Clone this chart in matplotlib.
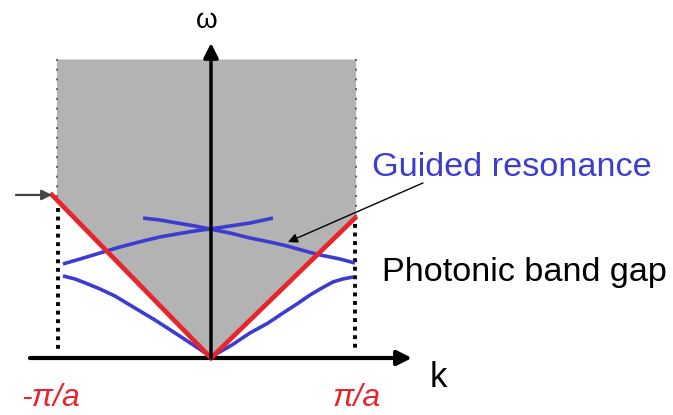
import numpy as np
import matplotlib
matplotlib.use("Agg")
import matplotlib.pyplot as plt

plt.rcParams['font.family'] = ['Liberation Sans', 'DejaVu Sans']

# ---- data (k in units of pi/a, omega in arbitrary units) ----
zone_edges = [-1.027, 0.967]          # -pi/a, pi/a
light_k = [-1.06, 0.0, 0.96]          # light line (red)
light_w = [1.087, 0.0, 0.933]
cone_top = 1.99                       # top of the shaded light cone region

# guided-resonance bands (blue)
bandA_k = [-0.987, -0.873, -0.740, -0.607, -0.453, -0.340, -0.227, -0.107,
           -0.007, 0.127, 0.260, 0.413]
bandA_w = [0.627, 0.660, 0.700, 0.740, 0.780, 0.807, 0.827, 0.847,
           0.860, 0.880, 0.900, 0.933]
bandB_k = [-0.453, -0.340, -0.227, -0.107, -0.007, 0.127, 0.260, 0.393,
           0.507, 0.627, 0.727, 0.860, 0.960]
bandB_w = [0.933, 0.920, 0.900, 0.880, 0.860, 0.833, 0.800, 0.773,
           0.747, 0.713, 0.687, 0.660, 0.633]
lowL_k = [-0.987, -0.907, -0.820, -0.740, -0.640, -0.507, -0.373, -0.240,
          -0.107, 0.0]
lowL_w = [0.547, 0.527, 0.493, 0.460, 0.413, 0.333, 0.253, 0.167,
          0.080, 0.007]
lowR_k = [0.0, 0.140, 0.260, 0.380, 0.480, 0.573, 0.660, 0.740, 0.813,
          0.880, 0.947]
lowR_w = [0.007, 0.087, 0.167, 0.233, 0.300, 0.360, 0.420, 0.467, 0.507,
          0.527, 0.540]

k_label_texts = ['-\u03c0/a', '\u03c0/a']

# ---- figure ----
fig = plt.figure(figsize=(6.73, 4.15), dpi=100)
ax = fig.add_axes([0, 0, 1, 1])
ax.set_xlim(-211 / 150, (673 - 211) / 150)
ax.set_ylim(-(415 - 358) / 150, 358 / 150)
ax.axis('off')

red = '#e8252b'
blue = '#3c3cd0'
gray = '#b3b3b3'

# shaded region above the light line
wl = np.interp(zone_edges[0], light_k, light_w)
wr = np.interp(zone_edges[1], light_k, light_w)
poly_k = [zone_edges[0], zone_edges[1], zone_edges[1], 0.0, zone_edges[0]]
poly_w = [cone_top, cone_top, wr, 0.0, wl]
ax.fill(poly_k, poly_w, color=gray, lw=0, zorder=1)

# thin dotted edges of the shaded region
for ke, we in zip(zone_edges, [wl, wr]):
    ax.plot([ke, ke], [cone_top, we], color='#606060', lw=1.4,
            ls=(0, (1, 4)), zorder=2)
# thick dotted zone-boundary lines below the light line
ax.plot([zone_edges[0] + 0.01] * 2, [wl - 0.05, 0.04], color='black', lw=2.8,
        ls=(0, (1, 1.2)), zorder=2)
ax.plot([zone_edges[1] - 0.01] * 2, [wr - 0.04, 0.04], color='black', lw=2.8,
        ls=(0, (1, 1.2)), zorder=2)

# blue bands
for kk, ww in [(bandA_k, bandA_w), (bandB_k, bandB_w),
               (lowL_k, lowL_w), (lowR_k, lowR_w)]:
    ax.plot(kk, ww, color=blue, lw=2.6, solid_capstyle='butt',
            solid_joinstyle='round', zorder=4)

# axes arrows
ax.annotate('', xy=(1.34, 0), xytext=(-1.207, 0),
            arrowprops=dict(arrowstyle='-|>', lw=3, color='black',
                            mutation_scale=22, shrinkA=0, shrinkB=0),
            zorder=3)
ax.annotate('', xy=(0, 2.10), xytext=(0, 0),
            arrowprops=dict(arrowstyle='-|>', lw=2.5, color='black',
                            mutation_scale=22, shrinkA=0, shrinkB=0),
            zorder=5)

# light line (red)
ax.plot(light_k, light_w, color=red, lw=3.4, solid_joinstyle='miter', zorder=4.5)

# left marker arrow
ax.annotate('', xy=(light_k[0], light_w[0]), xytext=(-1.30, light_w[0]),
            arrowprops=dict(arrowstyle='-|>', lw=1.6, color='#444444',
                            mutation_scale=15, shrinkA=0, shrinkB=0), zorder=5)

# guided resonance annotation
ax.annotate('', xy=(0.513, 0.773), xytext=(1.413, 1.167),
            arrowprops=dict(arrowstyle='-|>', lw=1.0, color='black',
                            mutation_scale=14, shrinkA=0, shrinkB=0), zorder=6)
ax.text(1.073, 1.273, 'Guided resonance', color=blue, fontsize=24.7,
        ha='left', va='center')
ax.text(1.14, 0.567, 'Photonic band gap', color='black', fontsize=24.7,
        ha='left', va='center')

# axis labels
ax.text(-0.03, 2.25, '\u03c9', fontsize=20, ha='center', va='center')
ax.text(1.513, -0.13, 'k', fontsize=25, ha='center', va='center')
ax.text(-1.07, -0.265, k_label_texts[0], color=red, fontsize=23,
        style='italic', ha='center', va='center')
ax.text(0.97, -0.265, k_label_texts[1], color=red, fontsize=23,
        style='italic', ha='center', va='center')

fig.savefig('out.png', dpi=100)
